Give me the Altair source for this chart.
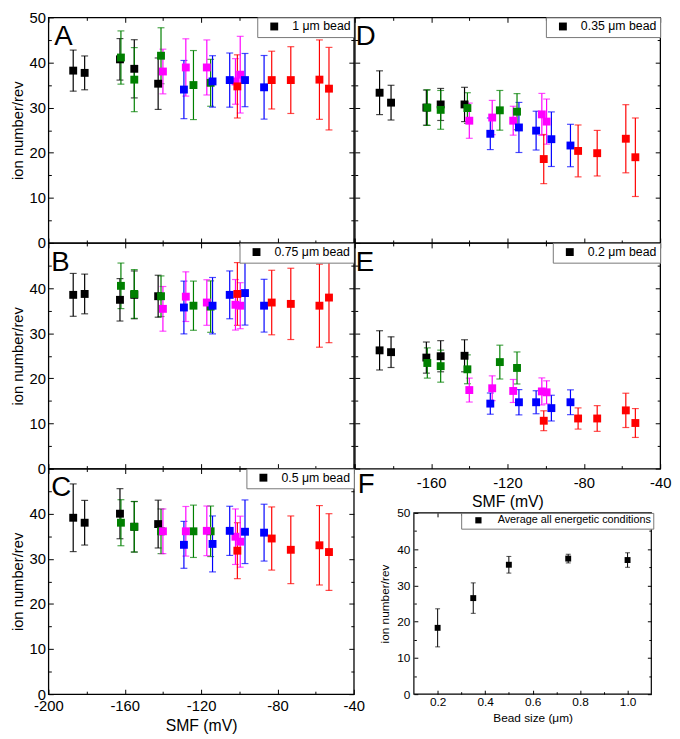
import altair as alt
import pandas as pd

FONT = "Liberation Sans"

# ---------------- data ----------------
conds = ["cond1", "cond2", "cond3", "cond4", "cond5"]
cond_colors = ["#000000", "#008000", "#ff00ff", "#0000ff", "#ff0000"]

# SMF positions (mV) of each energetic condition series (same in every panel)
x_black = [-187, -181, -162.5, -155, -142.5]
x_green = [-162, -155, -141, -124, -115]
x_magenta = [-140, -128, -117, -102, -99.5]
x_blue = [-129, -114, -105, -97, -87]
x_red = [-101, -83, -73, -58, -53]

# Panel A : 1 um bead
a_black = [38.2, 37.7, 40.7, 38.6, 35.3]
a_black_err = [4.55, 3.75, 4.6, 6.45, 5.7]
a_green = [41.1, 36.2, 41.5, 35.0, 35.5]
a_green_err = [5.9, 7.1, 6.2, 7.65, 5.2]
a_magenta = [38.0, 38.9, 38.9, 35.8, 37.3]
a_magenta_err = [4.95, 6.35, 6.1, 5.05, 8.5]
a_blue = [34.0, 35.8, 36.1, 36.1, 34.5]
a_blue_err = [6.45, 5.7, 6.0, 5.9, 7.05]
a_red = [34.7, 36.1, 36.1, 36.2, 34.2]
a_red_err = [7.0, 6.4, 7.4, 8.8, 9.15]

# Panel B : 0.75 um bead
b_black = [38.5, 38.7, 37.4, 38.5, 38.2]
b_black_err = [4.75, 4.4, 4.7, 5.3, 4.65]
b_green = [40.5, 38.7, 38.2, 36.1, 35.9]
b_green_err = [5.05, 5.4, 4.5, 5.45, 5.7]
b_magenta = [35.4, 38.1, 36.8, 36.3, 36.1]
b_magenta_err = [4.95, 5.5, 5.05, 5.6, 5.1]
b_blue = [35.7, 36.1, 38.5, 38.9, 36.1]
b_blue_err = [5.85, 6.25, 5.3, 7.1, 5.85]
b_red = [38.7, 36.8, 36.5, 36.1, 37.9]
b_red_err = [6.95, 7.15, 7.9, 9.2, 10.0]

# Panel C : 0.5 um bead
c_black = [39.1, 38.0, 40.0, 37.1, 37.7]
c_black_err = [7.5, 4.95, 5.55, 5.6, 5.3]
c_green = [38.0, 37.1, 36.1, 36.1, 36.1]
c_green_err = [5.1, 5.6, 4.95, 5.8, 5.6]
c_magenta = [36.1, 36.1, 36.2, 34.9, 33.8]
c_magenta_err = [4.95, 5.5, 5.5, 6.15, 5.65]
c_blue = [33.1, 33.3, 36.2, 36.0, 35.8]
c_blue_err = [5.2, 6.2, 5.45, 7.05, 6.3]
c_red = [31.8, 34.5, 32.0, 33.0, 31.5]
c_red_err = [6.2, 7.0, 7.5, 8.8, 8.5]

# Panel D : 0.35 um bead
d_black = [33.3, 31.1, 30.0, 30.7, 30.7]
d_black_err = [4.85, 3.85, 3.9, 3.55, 3.8]
d_green = [30.0, 29.5, 29.9, 29.4, 29.1]
d_green_err = [3.95, 4.3, 3.4, 4.4, 4.0]
d_magenta = [27.1, 27.8, 27.1, 28.5, 26.9]
d_magenta_err = [3.9, 3.8, 3.2, 4.65, 5.0]
d_blue = [24.2, 25.6, 24.9, 23.0, 21.6]
d_blue_err = [3.5, 5.55, 4.3, 6.05, 4.7]
d_red = [18.6, 20.4, 19.9, 23.1, 19.0]
d_red_err = [5.45, 5.75, 5.05, 7.55, 8.7]

# Panel E : 0.2 um bead
e_black = [26.2, 25.8, 24.6, 24.9, 25.0]
e_black_err = [4.35, 3.4, 3.45, 3.45, 3.55]
e_green = [23.4, 22.7, 22.0, 23.6, 22.3]
e_green_err = [3.35, 3.55, 3.2, 3.75, 3.55]
e_magenta = [17.4, 17.8, 17.2, 17.1, 16.9]
e_magenta_err = [2.65, 2.75, 2.55, 3.0, 2.55]
e_blue = [14.4, 14.7, 14.7, 13.4, 14.7]
e_blue_err = [2.35, 2.8, 2.55, 2.85, 2.75]
e_red = [10.6, 11.1, 11.1, 12.9, 10.1]
e_red_err = [2.2, 2.35, 2.85, 3.8, 3.2]

# Panel F : average over all energetic conditions
bead_size = [0.2, 0.35, 0.5, 0.75, 1.0]
bead_avg = [18.3, 26.5, 35.7, 37.4, 37.0]
bead_err = [5.25, 4.2, 2.3, 1.2, 2.0]

letters = ["A", "B", "C", "D", "E", "F"]
legend_labels = ["1 μm bead", "0.75 μm bead", "0.5 μm bead", "0.35 μm bead",
                 "0.2 μm bead", "Average all energetic conditions"]

# tick positions
x_major = [-200, -160, -120, -80, -40]
x_minor = [-180, -140, -100, -60]
y_major = [0, 10, 20, 30, 40, 50]
y_minor = [5, 15, 25, 35, 45]
f_x_major = [0.2, 0.4, 0.6, 0.8, 1.0]
f_x_minor = [0.3, 0.5, 0.7, 0.9]

x_all = [x_black, x_green, x_magenta, x_blue, x_red]


def panel_df(series, errs):
    rows = []
    for cond, xs_, ys_, es in zip(conds, x_all, series, errs):
        for x, y, e in zip(xs_, ys_, es):
            rows.append({"cond": cond, "smf": x, "val": y, "lo": y - e, "hi": y + e})
    return pd.DataFrame(rows)


df_a = panel_df([a_black, a_green, a_magenta, a_blue, a_red],
                [a_black_err, a_green_err, a_magenta_err, a_blue_err, a_red_err])
df_b = panel_df([b_black, b_green, b_magenta, b_blue, b_red],
                [b_black_err, b_green_err, b_magenta_err, b_blue_err, b_red_err])
df_c = panel_df([c_black, c_green, c_magenta, c_blue, c_red],
                [c_black_err, c_green_err, c_magenta_err, c_blue_err, c_red_err])
df_d = panel_df([d_black, d_green, d_magenta, d_blue, d_red],
                [d_black_err, d_green_err, d_magenta_err, d_blue_err, d_red_err])
df_e = panel_df([e_black, e_green, e_magenta, e_blue, e_red],
                [e_black_err, e_green_err, e_magenta_err, e_blue_err, e_red_err])
df_f = pd.DataFrame({"bead": bead_size, "val": bead_avg,
                     "lo": [v - e for v, e in zip(bead_avg, bead_err)],
                     "hi": [v + e for v, e in zip(bead_avg, bead_err)]})

# ---------------- helpers ----------------
cscale = alt.Scale(domain=conds, range=cond_colors)
xs = alt.Scale(domain=[-200, -40], nice=False, zero=False)
ys = alt.Scale(domain=[0, 50], nice=False)


def ax(orient, values, tick, offset=None, label_expr=None, title=None, fs=15,
       pad=3, tpad=4, tfs=15):
    # inward ticks: the (hidden) axis line is moved inside by the tick length
    kw = dict(orient=orient, values=values, tickSize=tick,
              offset=(-tick if offset is None else offset),
              domain=False, grid=False, labelOverlap=False, labelFlush=False,
              tickColor="black", tickWidth=1, title=title)
    if label_expr:
        kw.update(labels=True, labelExpr=label_expr, labelFontSize=fs,
                  labelPadding=pad, titlePadding=tpad, titleFontSize=tfs)
    else:
        kw.update(labels=False)
    return alt.Axis(**kw)


def legend(lab_fs, pad, ssize, soff, loff, **extra):
    return alt.Legend(title=None, padding=pad, strokeColor="#777777",
                      fillColor="white", labelFont=FONT, labelFontSize=lab_fs,
                      labelColor="black", symbolType="square", symbolSize=ssize,
                      symbolFillColor="black", symbolStrokeColor="black",
                      symbolOpacity=1, symbolOffset=soff, labelOffset=loff,
                      cornerRadius=0, **extra)


MAJ, MIN = 5, 3


def panel(df, letter, lab, ylab, ytitle, xlab, xtitle, lx, xpad, w, h):
    err = alt.Chart(df).mark_errorbar(ticks={"size": 7}, thickness=1.2).encode(
        x=alt.X("smf:Q", scale=xs, axis=ax("top", x_major, MAJ)),
        y=alt.Y("lo:Q", scale=ys, axis=ax("right", y_major, MAJ)),
        y2="hi:Q",
        color=alt.Color("cond:N", scale=cscale, legend=None),
    )
    pts = alt.Chart(df).mark_square(size=64, opacity=1).encode(
        x=alt.X("smf:Q", scale=xs,
                axis=ax("bottom", x_major, MAJ, None, xlab, xtitle, pad=xpad, tfs=16)),
        y=alt.Y("val:Q", scale=ys, axis=ax("left", y_major, MAJ, None, ylab, ytitle)),
        color=alt.Color("cond:N", scale=cscale, legend=None),
    )
    minor1 = alt.Chart(df).mark_point(opacity=0).encode(
        x=alt.X("smf:Q", scale=xs, axis=ax("bottom", x_minor, MIN)),
        y=alt.Y("val:Q", scale=ys, axis=ax("left", y_minor, MIN)),
    )
    minor2 = alt.Chart(df).mark_point(opacity=0).encode(
        x=alt.X("smf:Q", scale=xs, axis=ax("top", x_minor, MIN)),
        y=alt.Y("val:Q", scale=ys, axis=ax("right", y_minor, MIN)),
    )
    txt = alt.Chart(pd.DataFrame({"t": [letter]})).mark_text(
        font=FONT, fontSize=28, align="left", baseline="alphabetic", color="black"
    ).encode(text="t:N", x=alt.value(lx), y=alt.value(28))
    leg = alt.Chart(pd.DataFrame({"lab": [lab]})).mark_point(
        shape="square", filled=True, color="black", opacity=0
    ).encode(shape=alt.Shape("lab:N", scale=alt.Scale(range=["square"]),
                             legend=legend(12.5, 3, 64, 8, 12,
                                           orient="top-right", offset=0)))
    return alt.layer(err, pts, minor1, minor2, txt, leg).resolve_axis(
        x="independent", y="independent").properties(width=w, height=h)


W, H = 310, 229
LAB_ALL = "'' + datum.value"
LAB_NO50 = "datum.value < 50 ? '' + datum.value : ''"
XLAB_ALL = "'' + datum.value"
XLAB_E = "datum.value > -200 ? '' + datum.value : ''"
YTITLE = "ion number/rev"
XTITLE = "SMF (mV)"

pa = panel(df_a, letters[0], legend_labels[0], LAB_ALL, YTITLE, None, None, 6, 3, W, H)
pb = panel(df_b, letters[1], legend_labels[1], LAB_NO50, YTITLE, None, None, 3, 3, W, H)
pc = panel(df_c, letters[2], legend_labels[2], LAB_NO50, YTITLE, XLAB_ALL, XTITLE, 3, 5, W, H)
pd_ = panel(df_d, letters[3], legend_labels[3], None, None, None, None, 1, 3, W, H)
pe = panel(df_e, letters[4], legend_labels[4], None, None, XLAB_E, XTITLE, 1, 7, W, H)

# Panel F : lives in the lower-right grid cell, its plot area is a sub-rectangle
FL, FR, FT, FB = 60, 301, 45, 229   # plot box inside the cell
FMAJ, FMIN = 4, 2.5
fxs = alt.Scale(domain=[0.1, 1.1], nice=False, zero=False, range=[FL, FR])
fys = alt.Scale(domain=[0, 50], nice=False, zero=False, range=[FB, FT])
FXLAB = "format(datum.value, '.1f')"


def f_off(orient, t):
    return {"top": -(FT + t), "right": (FR - t) - W,
            "bottom": (FB - t) - H, "left": -(FL + t)}[orient]


f_frame = alt.Chart(pd.DataFrame({"k": [0]})).mark_rect(
    filled=False, stroke="black", strokeWidth=1.2
).encode(
    x=alt.X(datum=0.1, scale=fxs, axis=None), x2=alt.X2(datum=1.1),
    y=alt.Y(datum=0, scale=fys, axis=None), y2=alt.Y2(datum=50),
)
f_err = alt.Chart(df_f).mark_errorbar(ticks={"size": 5}, thickness=1, color="black").encode(
    x=alt.X("bead:Q", scale=fxs, axis=ax("top", f_x_major, FMAJ, f_off("top", FMAJ))),
    y=alt.Y("lo:Q", scale=fys, axis=ax("right", y_major, FMAJ, f_off("right", FMAJ))),
    y2="hi:Q",
)
f_pts = alt.Chart(df_f).mark_square(size=36, opacity=1, color="black").encode(
    x=alt.X("bead:Q", scale=fxs,
            axis=ax("bottom", f_x_major, FMAJ, f_off("bottom", FMAJ), FXLAB,
                    "Bead size (μm)", fs=12, pad=2, tpad=6, tfs=12)),
    y=alt.Y("val:Q", scale=fys,
            axis=ax("left", y_major, FMAJ, f_off("left", FMAJ), LAB_ALL, YTITLE,
                    fs=12, pad=4, tpad=5, tfs=12)),
)
f_min1 = alt.Chart(df_f).mark_point(opacity=0).encode(
    x=alt.X("bead:Q", scale=fxs, axis=ax("bottom", f_x_minor, FMIN, f_off("bottom", FMIN))),
    y=alt.Y("val:Q", scale=fys, axis=ax("left", y_minor, FMIN, f_off("left", FMIN))),
)
f_min2 = alt.Chart(df_f).mark_point(opacity=0).encode(
    x=alt.X("bead:Q", scale=fxs, axis=ax("top", f_x_minor, FMIN, f_off("top", FMIN))),
    y=alt.Y("val:Q", scale=fys, axis=ax("right", y_minor, FMIN, f_off("right", FMIN))),
)
f_txt = alt.Chart(pd.DataFrame({"t": [letters[5]]})).mark_text(
    font=FONT, fontSize=28, align="left", baseline="alphabetic", color="black"
).encode(text="t:N", x=alt.value(3), y=alt.value(25))
f_leg = alt.Chart(pd.DataFrame({"lab": [legend_labels[5]]})).mark_point(
    shape="square", filled=True, color="black", opacity=0
).encode(shape=alt.Shape("lab:N", scale=alt.Scale(range=["square"]),
                         legend=legend(11, 2, 40, 10, 14, orient="none",
                                       legendX=108, legendY=FT)))
pf = alt.layer(f_frame, f_err, f_pts, f_min1, f_min2, f_txt, f_leg).resolve_axis(
    x="independent", y="independent").properties(
    width=W, height=H, view=alt.ViewBackground(strokeOpacity=0))

chart = alt.concat(pa, pd_, pb, pe, pc, pf, columns=2,
                   spacing={"row": 0, "column": 1}, bounds="flush").resolve_scale(
    shape="independent").resolve_legend(shape="independent").properties(
    padding={"left": 1, "top": -4, "right": 0, "bottom": 0}
).configure_view(stroke="black", strokeWidth=1.3).configure_axis(
    labelFont=FONT, titleFont=FONT, labelColor="black", titleColor="black",
    titleFontWeight="normal"
)

chart.save("out.html", embed_options={"renderer": "svg", "actions": False})
